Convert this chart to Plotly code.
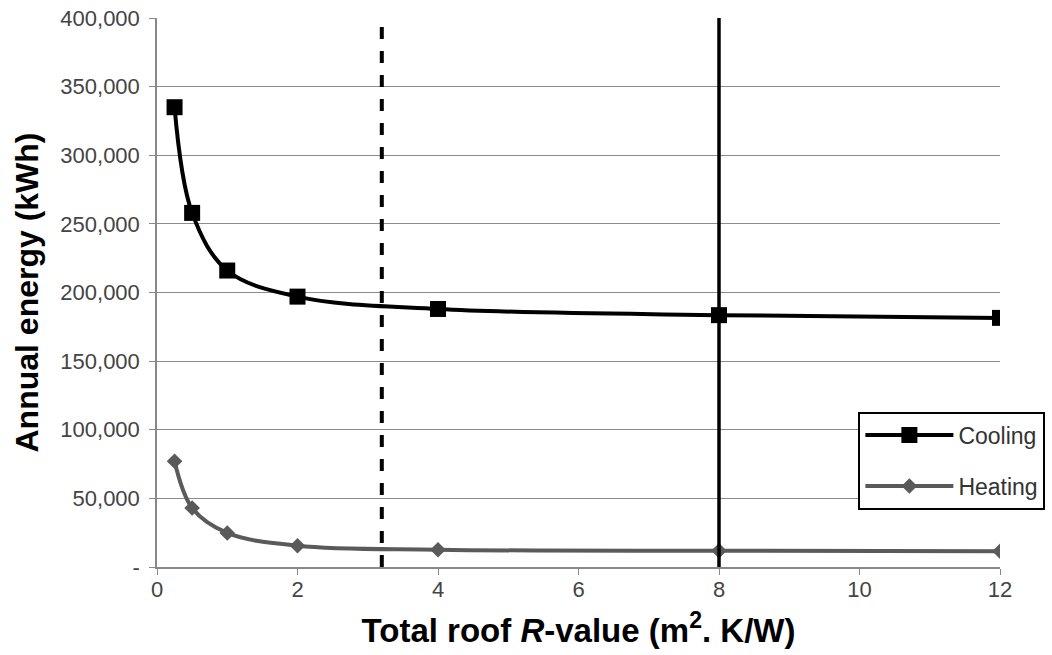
import plotly.graph_objects as go

r_values = [0.25, 0.5, 1, 2, 4, 8, 12]
cooling = [335000, 258000, 216000, 197000, 188000, 183500, 181500]
heating = [77000, 43000, 24800, 15500, 12600, 11800, 11500]
y_tickvals = [0, 50000, 100000, 150000, 200000, 250000, 300000, 350000, 400000]
y_ticktext = ["-", "50,000", "100,000", "150,000", "200,000", "250,000", "300,000", "350,000", "400,000"]
x_tickvals = [0, 2, 4, 6, 8, 10, 12]
dashed_line_x = 3.2
solid_line_x = 8

FONT = "Liberation Sans, Arial, sans-serif"

fig = go.Figure()
fig.add_trace(go.Scatter(
    x=r_values, y=cooling, name="Cooling", mode="lines+markers", legendgroup="c",
    line=dict(color="#000000", width=4, shape="spline", smoothing=1.0),
    marker=dict(symbol="square", size=16, color="#000000"),
))
fig.add_trace(go.Scatter(
    x=r_values, y=heating, name="Heating", mode="lines+markers", legendgroup="h",
    line=dict(color="#5a5a5a", width=4, shape="spline", smoothing=1.0),
    marker=dict(symbol="diamond", size=12, color="#5a5a5a"),
))

fig.add_shape(type="line", xref="x", yref="y", x0=dashed_line_x, x1=dashed_line_x,
              y0=0, y1=400000, line=dict(color="#000000", width=4, dash="dash"))
fig.add_shape(type="line", xref="x", yref="y", x0=solid_line_x, x1=solid_line_x,
              y0=0, y1=400000, line=dict(color="#000000", width=3.5))

fig.update_layout(
    width=1052, height=655,
    margin=dict(l=157, r=52, t=18, b=88, autoexpand=False),
    paper_bgcolor="white", plot_bgcolor="white",
    font=dict(family=FONT, color="#444444"),
    showlegend=True,
    legend=dict(
        x=0.832, y=0.283, xanchor="left", yanchor="top",
        bordercolor="#000000", borderwidth=2, bgcolor="white",
        font=dict(size=23, color="#333333", family=FONT),
        traceorder="grouped", tracegroupgap=18, itemwidth=88,
    ),
    xaxis=dict(
        range=[0, 12], tickvals=x_tickvals, ticks="outside", ticklen=6,
        tickcolor="#888888", showline=True, linecolor="#888888", linewidth=1.5,
        showgrid=False, zeroline=False, ticklabelstandoff=-4, automargin=False,
        tickfont=dict(size=22, color="#444444", family=FONT),
        title=dict(text="<b>Total roof <i>R</i>-value (m<sup>2</sup>. K/W)</b>",
                   font=dict(size=33, color="#000000", family=FONT),
                   standoff=18),
    ),
    yaxis=dict(
        range=[0, 400000], tickvals=y_tickvals, ticktext=y_ticktext,
        ticks="outside", ticklen=6, tickcolor="#888888",
        showline=True, linecolor="#888888", linewidth=1.5,
        showgrid=True, gridcolor="#8c8c8c", gridwidth=1.2, zeroline=False,
        ticklabeloverflow="allow", ticklabelstandoff=5, automargin=False,
        tickfont=dict(size=22, color="#444444", family=FONT),
        title=dict(text="<b>Annual energy (kWh)</b>",
                   font=dict(size=32, color="#000000", family=FONT), standoff=12),
    ),
)

fig.write_html("out.html", config={"displayModeBar": False},
               post_script="document.body.style.margin='0px';")
